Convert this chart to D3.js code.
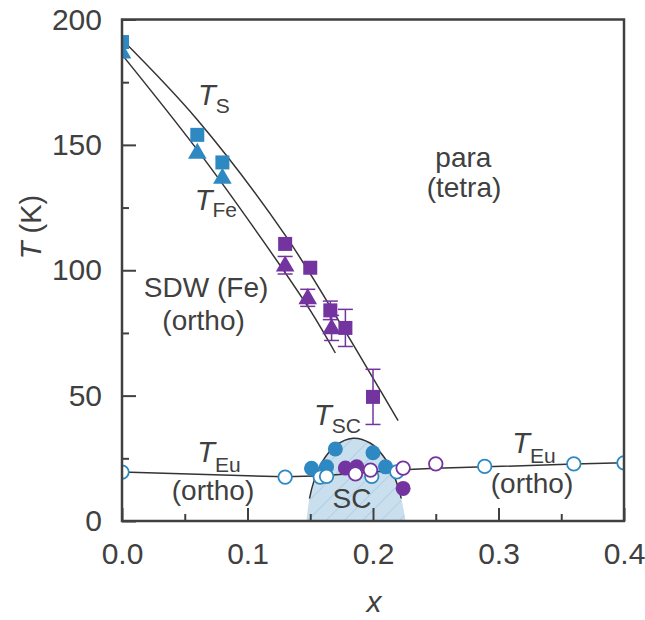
<!DOCTYPE html>
<meta charset="utf-8">
<style>
    body { margin: 0; background: #fff; }
    text { font-family: Arial, "Liberation Sans", sans-serif; fill: #404040; }
</style>
<svg width="645" height="620"></svg>
<script src="https://d3js.org/d3.v7.min.js"></script>
<script>

    // ---- data ----
    var xTicks = [0, 0.1, 0.2, 0.3, 0.4];
    var xMinor = [0.05, 0.15, 0.25, 0.35];
    var yTicks = [0, 50, 100, 150, 200];
    var yMinor = [25, 75, 125, 175];

    // T_S (squares) and T_Fe (triangles)
    var sqBlue = [{x: 0, T: 191}, {x: 0.06, T: 154}, {x: 0.08, T: 143}];
    var triBlue = [{x: 0, T: 187}, {x: 0.06, T: 147}, {x: 0.08, T: 137}];
    var sqPurple = [
        {x: 0.13, T: 110.5, err: 0},
        {x: 0.15, T: 101, err: 0},
        {x: 0.166, T: 84, err: 3.7},
        {x: 0.178, T: 77, err: 7.4},
        {x: 0.2, T: 49.5, err: 11}
    ];
    var triPurple = [
        {x: 0.13, T: 102, err: 3.5},
        {x: 0.148, T: 89, err: 3.4},
        {x: 0.167, T: 77, err: 5}
    ];

    // T_Eu and T_SC circles
    var circBlueFilled = [
        {x: 0.151, T: 21}, {x: 0.163, T: 21.6}, {x: 0.17, T: 28.7},
        {x: 0.2, T: 27.2}, {x: 0.21, T: 21.6}
    ];
    var circPurpleFilled = [{x: 0.178, T: 21.1}, {x: 0.187, T: 21.6}, {x: 0.224, T: 13}];
    var circBlueOpen = [
        {x: 0, T: 19.5}, {x: 0.13, T: 17.5}, {x: 0.158, T: 17.5}, {x: 0.163, T: 17.8},
        {x: 0.199, T: 17.8}, {x: 0.219, T: 19.6}, {x: 0.289, T: 21.8},
        {x: 0.36, T: 22.8}, {x: 0.4, T: 23.2}
    ];
    var circPurpleOpen = [
        {x: 0.186, T: 18.8}, {x: 0.198, T: 20.3}, {x: 0.224, T: 21.1}, {x: 0.25, T: 22.8}
    ];

    // guide lines
    var tsLine = [[0, 192], [0.06, 160], [0.13, 114], [0.175, 78], [0.2, 57], [0.22, 40]];
    var tfeLine = [[0, 186], [0.06, 148], [0.112, 112], [0.15, 84], [0.17, 67]];
    var teuLine = [[0, 19.5], [0.13, 17.6], [0.16, 18], [0.2, 19.5], [0.224, 20.4],
                   [0.25, 21], [0.29, 21.6], [0.36, 22.7], [0.4, 23.2]];
    var domeLine = [[0.147, 0], [0.149, 8], [0.153, 16], [0.16, 24], [0.17, 30], [0.184, 33],
                    [0.198, 31], [0.208, 26], [0.216, 19], [0.222, 10], [0.226, 0]];

    var blue = "#2e89c3",
        purple = "#7434a0",
        ink = "#404040";

    var svg = d3.select("svg");

    var x = d3.scaleLinear().domain([0, 0.4]).range([122, 624]);
    var y = d3.scaleLinear().domain([0, 200]).range([521, 19.5]);

    var defs = svg.append("defs");
    defs.append("clipPath").attr("id", "plot")
        .append("rect")
        .attr("x", x(0)).attr("y", y(200))
        .attr("width", x(0.4) - x(0)).attr("height", y(0) - y(200));
    defs.append("clipPath").attr("id", "domeTop")
        .append("rect")
        .attr("x", x(0)).attr("y", y(200))
        .attr("width", x(0.4) - x(0)).attr("height", y(9) - y(200));

    var hatch = defs.append("pattern")
        .attr("id", "hatch")
        .attr("patternUnits", "userSpaceOnUse")
        .attr("width", 13).attr("height", 13)
        .attr("patternTransform", "rotate(45)");
    hatch.append("rect").attr("width", 13).attr("height", 13).attr("fill", "#c9dfee");
    hatch.append("line")
        .attr("x1", 0).attr("y1", 0).attr("x2", 0).attr("y2", 13)
        .attr("stroke", "#a6c8e1").attr("stroke-width", 1.4);

    var plot = svg.append("g").attr("clip-path", "url(#plot)");

    // SC dome
    var curve = d3.line()
        .x(function (d) { return x(d[0]); })
        .y(function (d) { return y(d[1]); })
        .curve(d3.curveCatmullRom);

    plot.append("path")
        .attr("d", curve(domeLine))
        .attr("fill", "url(#hatch)");
    plot.append("path")
        .attr("d", curve(domeLine))
        .attr("clip-path", "url(#domeTop)")
        .attr("fill", "none")
        .attr("stroke", "#333")
        .attr("stroke-width", 1.5);

    [tsLine, tfeLine].forEach(function (pts) {
        plot.append("path")
            .attr("d", curve(pts))
            .attr("fill", "none")
            .attr("stroke", "#333")
            .attr("stroke-width", 1.5);
    });

    plot.append("path")
        .attr("d", d3.line().x(function (d) { return x(d[0]); }).y(function (d) { return y(d[1]); })(teuLine))
        .attr("fill", "none")
        .attr("stroke", "#333")
        .attr("stroke-width", 1.5);

    // error bars
    function errorBars(data, color) {
        var g = plot.append("g").attr("stroke", color).attr("stroke-width", 1.5);
        data.filter(function (d) { return d.err > 0; }).forEach(function (d) {
            var cx = x(d.x);
            g.append("line").attr("x1", cx).attr("x2", cx)
                .attr("y1", y(d.T - d.err)).attr("y2", y(d.T + d.err));
            [d.T - d.err, d.T + d.err].forEach(function (v) {
                g.append("line").attr("x1", cx - 7.5).attr("x2", cx + 7.5)
                    .attr("y1", y(v)).attr("y2", y(v));
            });
        });
    }
    errorBars(sqPurple, purple);
    errorBars(triPurple, purple);

    // markers
    function squares(data, color) {
        plot.append("g").selectAll("rect")
            .data(data).enter().append("rect")
            .attr("x", function (d) { return x(d.x) - 7; })
            .attr("y", function (d) { return y(d.T) - 7; })
            .attr("width", 14).attr("height", 14)
            .attr("fill", color);
    }
    function triangles(data, color) {
        var tri = d3.symbol().type(d3.symbolTriangle).size(150);
        plot.append("g").selectAll("path")
            .data(data).enter().append("path")
            .attr("d", tri)
            .attr("transform", function (d) { return "translate(" + x(d.x) + "," + (y(d.T) + 1) + ")"; })
            .attr("fill", color);
    }
    function circles(data, color, open) {
        plot.append("g").selectAll("circle")
            .data(data).enter().append("circle")
            .attr("cx", function (d) { return x(d.x); })
            .attr("cy", function (d) { return y(d.T); })
            .attr("r", open ? 6.8 : 7.5)
            .attr("fill", open ? "#fff" : color)
            .attr("stroke", open ? color : "none")
            .attr("stroke-width", 1.8);
    }

    squares(sqBlue, blue);
    triangles(triBlue, blue);
    squares(sqPurple, purple);
    triangles(triPurple, purple);
    circles(circBlueFilled, blue, false);
    circles(circPurpleFilled, purple, false);
    circles(circBlueOpen, blue, true);
    circles(circPurpleOpen, purple, true);

    // frame
    svg.append("rect")
        .attr("x", x(0)).attr("y", y(200))
        .attr("width", x(0.4) - x(0)).attr("height", y(0) - y(200))
        .attr("fill", "none").attr("stroke", ink).attr("stroke-width", 2.5);

    // axes with inward ticks
    function styleAxis(g) {
        g.select(".domain").remove();
        g.selectAll(".tick line").attr("stroke", ink).attr("stroke-width", 2);
        g.selectAll(".tick text").attr("fill", ink).style("font-size", "30px");
    }

    svg.append("g")
        .attr("transform", "translate(0," + y(0) + ")")
        .call(d3.axisBottom(x).tickValues(xTicks).tickSize(-13).tickPadding(22)
            .tickFormat(d3.format(".1f")))
        .call(styleAxis);
    svg.append("g")
        .attr("transform", "translate(0," + y(0) + ")")
        .call(d3.axisBottom(x).tickValues(xMinor).tickSize(-7).tickFormat(""))
        .call(styleAxis);

    svg.append("g")
        .attr("transform", "translate(" + x(0) + ",0)")
        .call(d3.axisLeft(y).tickValues(yTicks).tickSize(-14).tickPadding(20))
        .call(styleAxis);
    svg.append("g")
        .attr("transform", "translate(" + x(0) + ",0)")
        .call(d3.axisLeft(y).tickValues(yMinor).tickSize(-7).tickFormat(""))
        .call(styleAxis);

    // axis titles
    var yTitle = svg.append("text")
        .attr("transform", "translate(41,227) rotate(-90)")
        .attr("text-anchor", "middle")
        .style("font-size", "29px");
    yTitle.append("tspan").style("font-style", "italic").text("T");
    yTitle.append("tspan").text(" (K)");

    svg.append("text")
        .attr("x", 374).attr("y", 612)
        .attr("text-anchor", "middle")
        .style("font-size", "30px")
        .style("font-style", "italic")
        .text("x");

    // annotations
    function symLabel(xv, tv, sub, subDy) {
        var t = svg.append("text")
            .attr("x", x(xv)).attr("y", y(tv))
            .style("font-size", "29px");
        t.append("tspan").style("font-style", "italic").text("T");
        t.append("tspan").attr("dy", subDy).style("font-size", "21px").text(sub);
    }
    symLabel(0.0606, 165.9, "S", 8);
    symLabel(0.058, 124, "Fe", 7);
    symLabel(0.153, 38.3, "SC", 8);
    symLabel(0.06, 23.5, "Eu", 10);
    symLabel(0.311, 27.1, "Eu", 10);

    function plainLabel(xv, tv, str) {
        svg.append("text")
            .attr("x", x(xv)).attr("y", y(tv))
            .attr("text-anchor", "middle")
            .style("font-size", "28px")
            .text(str);
    }
    plainLabel(0.272, 141, "para");
    plainLabel(0.2725, 129.2, "(tetra)");
    plainLabel(0.067, 89.3, "SDW (Fe)");
    plainLabel(0.065, 76.2, "(ortho)");
    plainLabel(0.0725, 8.4, "(ortho)");
    plainLabel(0.1833, 5.2, "SC");
    plainLabel(0.3267, 11.2, "(ortho)");

</script>
